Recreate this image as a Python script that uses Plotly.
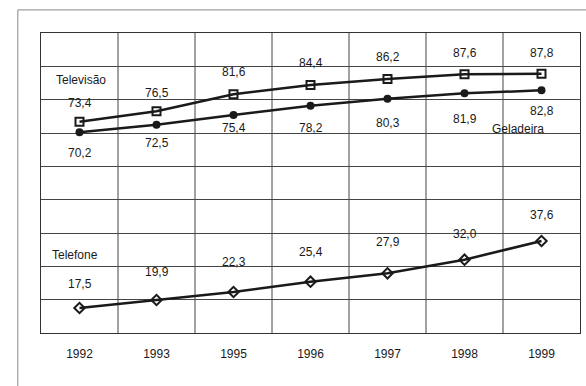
import plotly.graph_objects as go

years = ["1992", "1993", "1995", "1996", "1997", "1998", "1999"]
televisao = [73.4, 76.5, 81.6, 84.4, 86.2, 87.6, 87.8]
geladeira = [70.2, 72.5, 75.4, 78.2, 80.3, 81.9, 82.8]
telefone = [17.5, 19.9, 22.3, 25.4, 27.9, 32.0, 37.6]

FONT = "Liberation Sans Narrow, Liberation Sans, Arial Narrow, sans-serif"
INK = "#1a1a1a"

fig = go.Figure()
fig.add_trace(go.Scatter(x=years, y=televisao, mode="lines+markers", name="Televisão",
                         line=dict(color=INK, width=2.5),
                         marker=dict(symbol="square-open", size=8, color=INK, line=dict(width=2))))
fig.add_trace(go.Scatter(x=years, y=geladeira, mode="lines+markers", name="Geladeira",
                         line=dict(color=INK, width=2.5),
                         marker=dict(symbol="circle", size=8, color=INK)))
fig.add_trace(go.Scatter(x=years, y=telefone, mode="lines+markers", name="Telefone",
                         line=dict(color=INK, width=2.5),
                         marker=dict(symbol="diamond-open", size=8, color=INK, line=dict(width=2))))

def fmt(v):
    return f"{v:.1f}".replace(".", ",")

tv_shift = [19, 18, 22, 22, 22, 21, 21]
for i, (v, s) in enumerate(zip(televisao, tv_shift)):
    fig.add_annotation(x=i, y=v, xref="x", yref="y", text=fmt(v), showarrow=False, yshift=s)
gel_shift = [-21, -18, -13, -22, -24, -26, -21]
for i, (v, s) in enumerate(zip(geladeira, gel_shift)):
    fig.add_annotation(x=i, y=v, xref="x", yref="y", text=fmt(v), showarrow=False, yshift=s)
tel_shift = [24, 28, 30, 30, 31, 26, 26]
for i, (v, s) in enumerate(zip(telefone, tel_shift)):
    fig.add_annotation(x=i, y=v, xref="x", yref="y", text=fmt(v), showarrow=False, yshift=s)

fig.add_annotation(x=0, y=85.9, xref="x", yref="y", text="Televisão", showarrow=False, xanchor="left", xshift=-26)
fig.add_annotation(x=6, y=71.2, xref="x", yref="y", text="Geladeira", showarrow=False, xanchor="right", xshift=4)
fig.add_annotation(x=0, y=33.4, xref="x", yref="y", text="Telefone", showarrow=False, xanchor="left", xshift=-30)

fig.update_layout(
    width=586, height=386,
    margin=dict(l=41, r=6, t=33, b=53),
    paper_bgcolor="white", plot_bgcolor="white",
    showlegend=False,
    font=dict(family=FONT, size=12, color=INK),
    xaxis=dict(type="category", range=[-0.5, 6.5], showgrid=False,
               tickfont=dict(size=12), ticks="", ticklabelstandoff=10,
               showline=True, linecolor="#333", linewidth=1, mirror=True),
    yaxis=dict(range=[10, 100], dtick=10, showticklabels=False, showgrid=True,
               gridcolor="#444", gridwidth=1, zeroline=False,
               showline=True, linecolor="#333", linewidth=1, mirror=True),
)
for i in range(6):
    fig.add_shape(type="line", xref="x", yref="paper", x0=i + 0.5, x1=i + 0.5, y0=0, y1=1,
                  line=dict(color="#444", width=1), layer="below")
fig.add_shape(type="rect", xref="paper", yref="paper", x0=-0.043, x1=1.1, y0=-0.25, y1=1.077,
              line=dict(color="#888", width=1))

fig.write_html("out.html")
